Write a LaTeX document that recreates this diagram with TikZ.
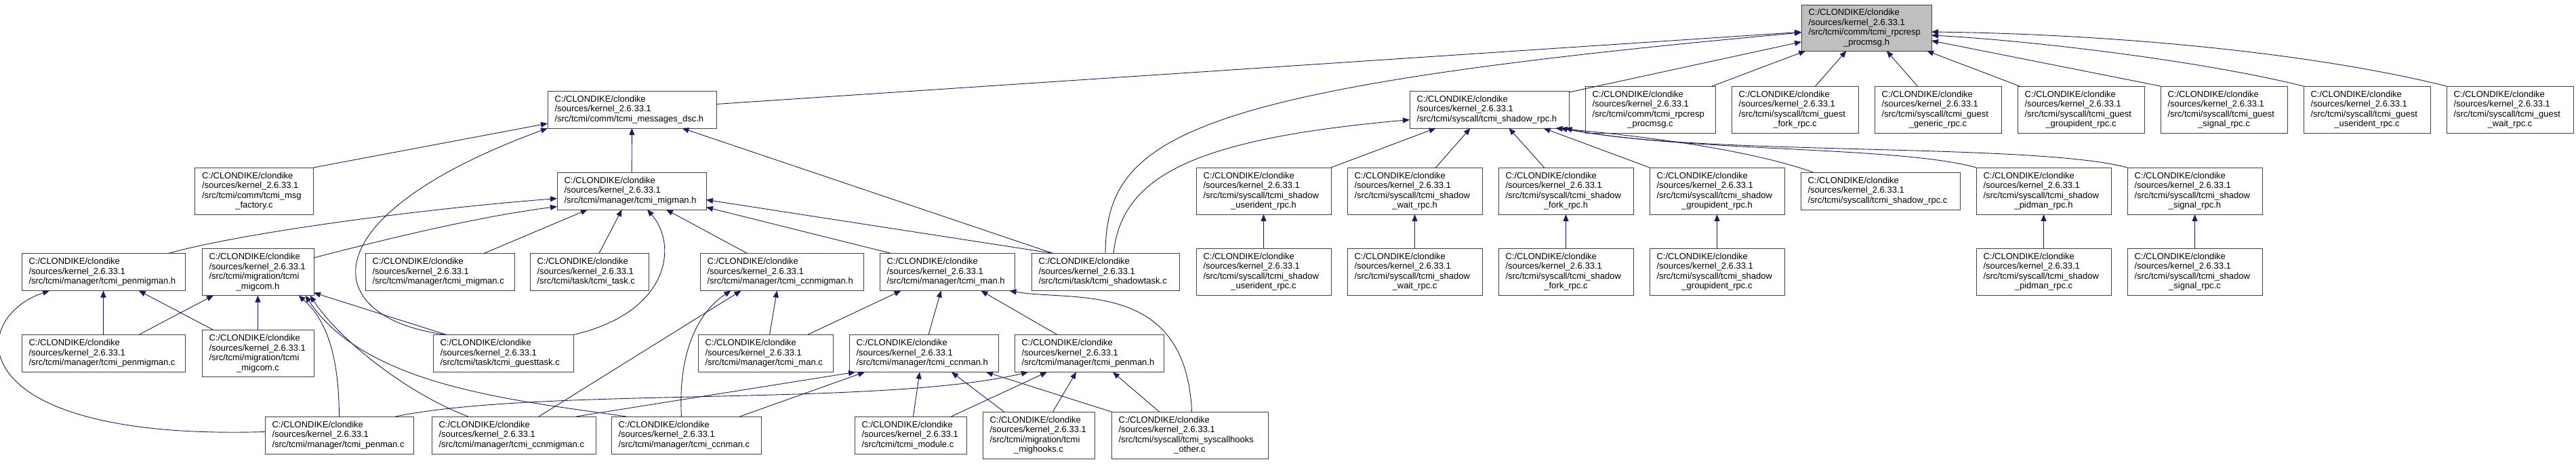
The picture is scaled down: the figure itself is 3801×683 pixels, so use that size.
\documentclass[tikz,border=0pt]{standalone}
\usepackage{fontspec}
\setmainfont{Liberation Sans}
\usepackage{tikz}
\usetikzlibrary{arrows.meta, positioning}
\usepackage{xcolor}
\definecolor{edgeblue}{HTML}{191970}
\definecolor{boxline}{HTML}{404040}
\definecolor{rootgray}{HTML}{BFBFBF}

\newcommand{\kpre}{C:/CLONDIKE/clondike\\/sources/kernel\_2.6.33.1\\}
\newcommand{\lastln}[1]{\makebox[\hsize][c]{#1}}

\begin{document}
\begin{tikzpicture}[
    x=1pt, y=-1pt,
    node distance=24pt,
    fbox/.style={rectangle, draw=boxline, line width=1pt, fill=white,
                 minimum height=55pt, inner xsep=10.5pt, inner ysep=1pt, outer sep=0pt,
                 font=\fontsize{13}{14.5}\selectfont, align=left},
    tall/.style={minimum height=69pt},
    gbox/.style={fbox, fill=rootgray, minimum height=68pt},
    wd/.code={\pgfmathsetlengthmacro\wdtext{#1-21pt}\pgfkeysalso{minimum width=#1, text width=\wdtext}},
    arr/.style={-{Triangle[length=10pt, width=8pt]}, line width=0.9pt, color=edgeblue},
  ]
    \path[use as bounding box, fill=white] (0,0) rectangle (3801,683);

    \node[gbox, wd=192pt] (root) at (2754,41) {\kpre/src/tcmi/comm/tcmi\_rpcresp\\\lastln{\_procmsg.h}};

    % row 1
    \node[fbox, wd=249pt] (dsc) at (932.5,161.5) {\kpre/src/tcmi/comm/tcmi\_messages\_dsc.h};
    \node[fbox, wd=235pt] (shadowrpch) at (2197.5,161.5) {\kpre/src/tcmi/syscall/tcmi\_shadow\_rpc.h};
    \node[fbox, tall, wd=192pt] (rpcrespc) at (2435,161.5) {\kpre/src/tcmi/comm/tcmi\_rpcresp\\\lastln{\_procmsg.c}};
    \node[fbox, tall, wd=187pt, right=of rpcrespc] (gfork) {\kpre/src/tcmi/syscall/tcmi\_guest\\\lastln{\_fork\_rpc.c}};
    \node[fbox, tall, wd=187pt, right=of gfork] (ggeneric) {\kpre/src/tcmi/syscall/tcmi\_guest\\\lastln{\_generic\_rpc.c}};
    \node[fbox, tall, wd=187pt, right=of ggeneric] (ggroupident) {\kpre/src/tcmi/syscall/tcmi\_guest\\\lastln{\_groupident\_rpc.c}};
    \node[fbox, tall, wd=187pt, right=of ggroupident] (gsignal) {\kpre/src/tcmi/syscall/tcmi\_guest\\\lastln{\_signal\_rpc.c}};
    \node[fbox, tall, wd=187pt, right=of gsignal] (guserident) {\kpre/src/tcmi/syscall/tcmi\_guest\\\lastln{\_userident\_rpc.c}};
    \node[fbox, tall, wd=187pt, right=of guserident] (gwait) {\kpre/src/tcmi/syscall/tcmi\_guest\\\lastln{\_wait\_rpc.c}};

    % row 2
    \node[fbox, tall, wd=175pt] (msgfactory) at (375,281.5) {\kpre/src/tcmi/comm/tcmi\_msg\\\lastln{\_factory.c}};
    \node[fbox, wd=220pt] (migmanh) at (932,281.5) {\kpre/src/tcmi/manager/tcmi\_migman.h};
    \node[fbox, tall, wd=199pt] (suidh) at (1864.5,281.5) {\kpre/src/tcmi/syscall/tcmi\_shadow\\\lastln{\_userident\_rpc.h}};
    \node[fbox, tall, wd=199pt, right=of suidh] (swaith) {\kpre/src/tcmi/syscall/tcmi\_shadow\\\lastln{\_wait\_rpc.h}};
    \node[fbox, tall, wd=199pt, right=of swaith] (sforkh) {\kpre/src/tcmi/syscall/tcmi\_shadow\\\lastln{\_fork\_rpc.h}};
    \node[fbox, tall, wd=199pt, right=of sforkh] (sgrouph) {\kpre/src/tcmi/syscall/tcmi\_shadow\\\lastln{\_groupident\_rpc.h}};
    \node[fbox, wd=235pt, right=of sgrouph] (srpcc) {\kpre/src/tcmi/syscall/tcmi\_shadow\_rpc.c};
    \node[fbox, tall, wd=199pt, right=of srpcc] (spidh) {\kpre/src/tcmi/syscall/tcmi\_shadow\\\lastln{\_pidman\_rpc.h}};
    \node[fbox, tall, wd=199pt, right=of spidh] (ssigh) {\kpre/src/tcmi/syscall/tcmi\_shadow\\\lastln{\_signal\_rpc.h}};

    % row 3
    \node[fbox, wd=241pt] (penmigmanh) at (152.5,401) {\kpre/src/tcmi/manager/tcmi\_penmigman.h};
    \node[fbox, tall, wd=165pt, right=25pt of penmigmanh] (migcomh) {\kpre/src/tcmi/migration/tcmi\\\lastln{\_migcom.h}};
    \node[fbox, wd=220pt] (migmanc) at (649,401) {\kpre/src/tcmi/manager/tcmi\_migman.c};
    \node[fbox, wd=175pt, right=23pt of migmanc] (taskc) {\kpre/src/tcmi/task/tcmi\_task.c};
    \node[fbox, wd=241pt] (ccnmigmanh) at (1153.5,401) {\kpre/src/tcmi/manager/tcmi\_ccnmigman.h};
    \node[fbox, wd=199pt, right=of ccnmigmanh] (manh) {\kpre/src/tcmi/manager/tcmi\_man.h};
    \node[fbox, wd=218pt, right=25pt of manh] (shadowtaskc) {\kpre/src/tcmi/task/tcmi\_shadowtask.c};
    \node[fbox, tall, wd=199pt, below=50pt of suidh] (suidc) {\kpre/src/tcmi/syscall/tcmi\_shadow\\\lastln{\_userident\_rpc.c}};
    \node[fbox, tall, wd=199pt, below=50pt of swaith] (swaitc) {\kpre/src/tcmi/syscall/tcmi\_shadow\\\lastln{\_wait\_rpc.c}};
    \node[fbox, tall, wd=199pt, below=50pt of sforkh] (sforkc) {\kpre/src/tcmi/syscall/tcmi\_shadow\\\lastln{\_fork\_rpc.c}};
    \node[fbox, tall, wd=199pt, below=50pt of sgrouph] (sgroupc) {\kpre/src/tcmi/syscall/tcmi\_shadow\\\lastln{\_groupident\_rpc.c}};
    \node[fbox, tall, wd=199pt, below=50pt of spidh] (spidc) {\kpre/src/tcmi/syscall/tcmi\_shadow\\\lastln{\_pidman\_rpc.c}};
    \node[fbox, tall, wd=199pt, below=50pt of ssigh] (ssigc) {\kpre/src/tcmi/syscall/tcmi\_shadow\\\lastln{\_signal\_rpc.c}};

    % row 4
    \node[fbox, wd=241pt, below=65pt of penmigmanh] (penmigmanc) {\kpre/src/tcmi/manager/tcmi\_penmigman.c};
    \node[fbox, tall, wd=165pt, below=51pt of migcomh] (migcomc) {\kpre/src/tcmi/migration/tcmi\\\lastln{\_migcom.c}};
    \node[fbox, wd=207pt] (guesttaskc) at (742.5,521) {\kpre/src/tcmi/task/tcmi\_guesttask.c};
    \node[fbox, wd=199pt] (manc) at (1129.5,521) {\kpre/src/tcmi/manager/tcmi\_man.c};
    \node[fbox, wd=220pt, right=of manc] (ccnmanh) {\kpre/src/tcmi/manager/tcmi\_ccnman.h};
    \node[fbox, wd=220pt, right=of ccnmanh] (penmanh) {\kpre/src/tcmi/manager/tcmi\_penman.h};

    % row 5
    \node[fbox, wd=219pt] (penmanc) at (500.5,641.5) {\kpre/src/tcmi/manager/tcmi\_penman.c};
    \node[fbox, wd=242pt, right=27pt of penmanc] (ccnmigmanc) {\kpre/src/tcmi/manager/tcmi\_ccnmigman.c};
    \node[fbox, wd=221pt, right=23pt of ccnmigmanc] (ccnmanc) {\kpre/src/tcmi/manager/tcmi\_ccnman.c};
    \node[fbox, wd=165pt] (modulec) at (1343.5,641.5) {\kpre/src/tcmi/tcmi\_module.c};
    \node[fbox, tall, wd=165pt, right=of modulec] (mighooksc) {\kpre/src/tcmi/migration/tcmi\\\lastln{\_mighooks.c}};
    \node[fbox, tall, wd=231pt, right=25pt of mighooksc] (syshooksc) {\kpre/src/tcmi/syscall/tcmi\_syscallhooks\\\lastln{\_other.c}};

    % includes of the rpcresp header
    \draw[arr] (dsc) -- (root);
    \draw[arr] (shadowtaskc.north) .. controls (1632,200) and (1750,130) .. ([yshift=-7pt]root.west);
    \draw[arr] (shadowrpch) -- (root);
    \draw[arr] (rpcrespc) -- (root);
    \draw[arr] (gfork) -- (root);
    \draw[arr] (ggeneric) -- (root);
    \draw[arr] (ggroupident) -- (root);
    \draw[arr] (gsignal.north west) -- ([yshift=-19pt]root.east);
    \draw[arr] (guserident.north west) .. controls (3250,90) and (3000,60) .. ([yshift=-11pt]root.east);
    \draw[arr] (gwait.north west) .. controls (3400,75) and (3100,50) .. ([yshift=-6pt]root.east);

    % messages_dsc.h
    \draw[arr] (msgfactory.north east) -- ([yshift=7pt]dsc.south west);
    \draw[arr] ([xshift=20pt]guesttaskc.north west) .. controls (470,470) and (450,320) .. (dsc.south west);
    \draw[arr] (migmanh) -- (dsc);
    \draw[arr] ([xshift=32pt]shadowtaskc.north west) -- ([xshift=74pt]dsc.south);

    % migman.h
    \draw[arr] ([xshift=96pt]penmigmanh.north) .. controls (350,345) and (600,310) .. ([yshift=-11pt]migmanh.west);
    \draw[arr] ([yshift=21pt]migcomh.east) .. controls (560,355) and (700,320) .. ([yshift=-23pt]migmanh.west);
    \draw[arr] (migmanc) -- (migmanh);
    \draw[arr] (taskc) -- (migmanh);
    \draw[arr] (guesttaskc.north east) .. controls (990,460) and (1000,360) .. ([xshift=23pt]migmanh.south);
    \draw[arr] (ccnmigmanh) -- (migmanh);
    \draw[arr] ([xshift=17pt]manh.north west) -- ([yshift=-24pt]migmanh.east);
    \draw[arr] ([xshift=32pt]shadowtaskc.north west) -- ([yshift=-13pt]migmanh.east);

    % penmigman.h and migcom.h
    \draw[arr] (penmigmanc) -- (penmigmanh);
    \draw[arr] (migcomc) -- (penmigmanh);
    \draw[arr] ([yshift=5pt]penmanc.west) .. controls (-60,650) and (-50,470) .. ([xshift=41pt]penmigmanh.south west);
    \draw[arr] (penmigmanc) -- (migcomh);
    \draw[arr] (migcomc) -- (migcomh);
    \draw[arr] (penmanc.north) .. controls (500,520) and (480,470) .. ([xshift=60pt]migcomh.south);
    \draw[arr] ([xshift=20pt]guesttaskc.north west) -- ([yshift=4pt]migcomh.south east);
    \draw[arr] ([xshift=-67pt]ccnmigmanc.north) .. controls (600,580) and (500,500) .. ([xshift=77pt]migcomh.south);
    \draw[arr] ([xshift=22pt]ccnmanc.north west) .. controls (760,590) and (540,570) .. ([xshift=70pt]migcomh.south);

    % ccnmigman.h and man.h
    \draw[arr] ([xshift=37pt]ccnmigmanc.north) -- ([xshift=-60pt]ccnmigmanh.south);
    \draw[arr] ([xshift=-7pt]ccnmanc.north) .. controls (1000,520) and (1030,460) .. ([xshift=-75pt]ccnmigmanh.south);
    \draw[arr] ([xshift=6pt]manc.north) -- ([xshift=-7pt]ccnmigmanh.south);
    \draw[arr] ([xshift=62pt]manc.north) -- ([xshift=-68pt]manh.south);
    \draw[arr] ([xshift=7pt]ccnmanh.north) -- ([xshift=-9pt]manh.south);
    \draw[arr] ([xshift=-47pt]penmanh.north) -- ([xshift=50pt]manh.south);
    \draw[arr] ([xshift=3pt]syshooksc.north) .. controls (1750,410) and (1580,445) .. ([xshift=92pt]manh.south);

    % ccnman.h and penman.h
    \draw[arr] ([xshift=92pt]ccnmigmanc.north) -- ([xshift=9pt]ccnmanh.south west);
    \draw[arr] ([xshift=79pt]ccnmanc.north) -- ([xshift=23pt]ccnmanh.south west);
    \draw[arr] ([xshift=4pt]modulec.north) -- ([xshift=-6pt]ccnmanh.south);
    \draw[arr] ([xshift=-51pt]mighooksc.north) -- ([xshift=41pt]ccnmanh.south);
    \draw[arr] (syshooksc.north west) -- ([xshift=92pt]ccnmanh.south);
    \draw[arr] ([xshift=83pt]penmanc.north) .. controls (800,570) and (1300,600) .. ([xshift=20pt]penmanh.south west);
    \draw[arr] ([xshift=60pt]modulec.north) -- ([xshift=48pt]penmanh.south west);
    \draw[arr] ([xshift=21pt]mighooksc.north) -- ([xshift=-19pt]penmanh.south);
    \draw[arr] ([xshift=-45pt]syshooksc.north) -- ([xshift=35pt]penmanh.south);

    % shadow_rpc.h
    \draw[arr] ([xshift=12pt]shadowtaskc.north) .. controls (1655,260) and (1760,205) .. ([yshift=-15pt]shadowrpch.west);
    \draw[arr] (suidh.north east) -- ([xshift=-79pt]shadowrpch.south);
    \draw[arr] ([xshift=31pt]swaith.north) -- ([xshift=-28pt]shadowrpch.south);
    \draw[arr] ([xshift=-32pt]sforkh.north) -- ([xshift=29pt]shadowrpch.south);
    \draw[arr] (sgrouph.north west) -- ([xshift=80pt]shadowrpch.south);
    \draw[arr] ([xshift=-99pt]srpcc.north) .. controls (2580,220) and (2420,200) .. ([xshift=98pt]shadowrpch.south);
    \draw[arr] (spidh.north west) .. controls (2800,215) and (2500,225) .. ([xshift=105pt]shadowrpch.south);
    \draw[arr] (ssigh.north west) .. controls (3000,210) and (2500,230) .. ([xshift=112pt]shadowrpch.south);

    % shadow .c files
    \draw[arr] (suidc) -- (suidh);
    \draw[arr] (swaitc) -- (swaith);
    \draw[arr] (sforkc) -- (sforkh);
    \draw[arr] (sgroupc) -- (sgrouph);
    \draw[arr] (spidc) -- (spidh);
    \draw[arr] (ssigc) -- (ssigh);
\end{tikzpicture}
\end{document}
